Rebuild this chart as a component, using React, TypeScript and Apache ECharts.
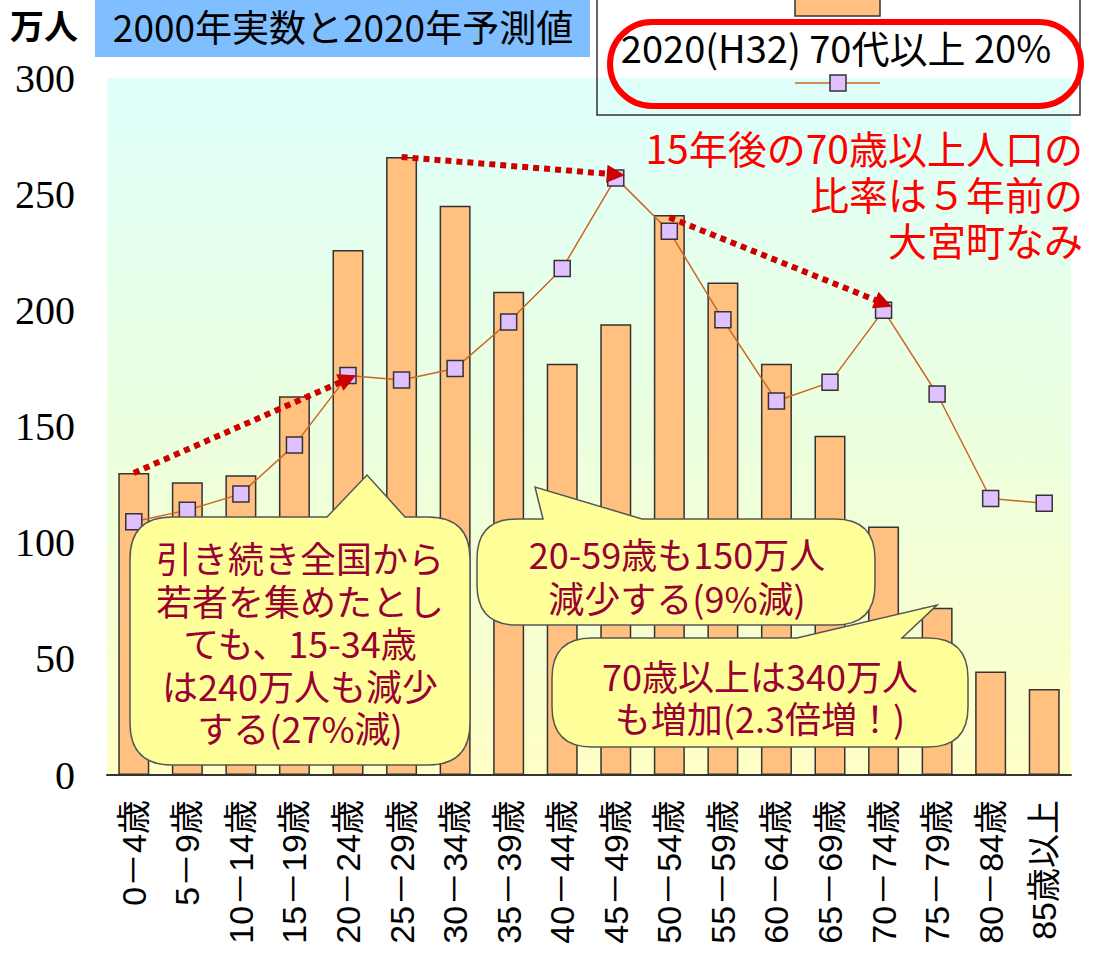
import React, { useEffect, useRef } from "react";
import * as echarts from "echarts";

// ---- data ----
const categories = [
  "0－4歳", "5－9歳", "10－14歳", "15－19歳", "20－24歳", "25－29歳",
  "30－34歳", "35－39歳", "40－44歳", "45－49歳", "50－54歳", "55－59歳",
  "60－64歳", "65－69歳", "70－74歳", "75－79歳", "80－84歳", "85歳以上",
];
const pop2000 = [130, 126, 129, 163, 226, 266, 245, 208, 177, 194, 241, 212, 177, 146, 107, 72, 44.5, 37];
const pop2020 = [109, 114, 121, 142, 172, 170, 175, 195, 218, 257, 234, 196, 161, 169, 200, 164, 119, 117];
const yTicks = [0, 50, 100, 150, 200, 250, 300];

const seriesBarName = "2000(H12)";
const seriesLineName = "2020(H32) 70代以上 20%";
const titleText = "2000年実数と2020年予測値";
const unitText = "万人";
const redNoteLines = ["15年後の70歳以上人口の", "比率は５年前の", "大宮町なみ"];
const bubble1Lines = ["引き続き全国から", "若者を集めたとし", "ても、15-34歳", "は240万人も減少", "する(27%減)"];
const bubble2Lines = ["20-59歳も150万人", "減少する(9%減)"];
const bubble3Lines = ["70歳以上は340万人", "も増加(2.3倍増！)"];

// arrows: [fromCategoryIndex, fromValue, toCategoryIndex, toValue]
const arrows = [
  [0, 130, 3.85, 170.5],
  [5, 266, 8.85, 258.5],
  [10, 240, 13.85, 203],
];

// ---- bubble geometry (layout) ----
function bubblePath(x0: number, y0: number, x1: number, y1: number, r: number, tl: number, ax: number, ay: number, tr: number) {
  return (
    `M${x0 + r},${y0} L${tl},${y0} L${ax},${ay} L${tr},${y0} L${x1 - r},${y0} ` +
    `Q${x1},${y0} ${x1},${y0 + r} L${x1},${y1 - r} Q${x1},${y1} ${x1 - r},${y1} ` +
    `L${x0 + r},${y1} Q${x0},${y1} ${x0},${y1 - r} L${x0},${y0 + r} Q${x0},${y0} ${x0 + r},${y0} Z`
  );
}

const B1 = bubblePath(130, 517, 470, 765, 42, 327, 367, 475, 405);
const B2 = bubblePath(477, 519, 875, 625, 40, 543, 535, 487, 642);
const B3 = bubblePath(552, 638, 968, 747, 40, 797, 937, 605, 902);

echarts.graphic.registerShape("bubbleA", (echarts.graphic as any).extendPath(B1, {}));
echarts.graphic.registerShape("bubbleB", (echarts.graphic as any).extendPath(B2, {}));
echarts.graphic.registerShape("bubbleC", (echarts.graphic as any).extendPath(B3, {}));

const CJK = "'Noto Sans CJK JP', 'Noto Sans', sans-serif";

function linesToTexts(lines: string[], x: number, yFirst: number, step: number, font: string, fill: string, align: string, z: number) {
  return lines.map((t, i) => ({
    type: "text",
    x,
    y: yFirst + i * step,
    z,
    style: { text: t, fill, font, align, verticalAlign: "middle", lineHeight: 34 },
  }));
}

export default function App() {
  const ref = useRef<HTMLDivElement>(null);
  useEffect(() => {
    if (!ref.current) return;
    const chart = echarts.init(ref.current, undefined, { renderer: "svg" });
    const bubbleStyle = { fill: "#FFFF99", stroke: "#555555", lineWidth: 1.5 };
    const bFont = `36px ${CJK}`;
    const bColor = "#990033";
    chart.setOption({
      animation: false,
      backgroundColor: "#ffffff",
      grid: {
        left: 107,
        right: 24,
        top: 78,
        bottom: 190,
        show: true,
        borderWidth: 0,
        backgroundColor: new echarts.graphic.LinearGradient(0, 0, 0, 1, [
          { offset: 0, color: "#DEFFFB" },
          { offset: 0.5, color: "#EBFFDF" },
          { offset: 1, color: "#FFFFC6" },
        ]),
      },
      xAxis: {
        type: "category",
        data: categories,
        axisTick: { show: false },
        axisLine: { show: true, lineStyle: { color: "#333333", width: 2 } },
        axisLabel: {
          interval: 0,
          rotate: 90,
          margin: 25,
          color: "#000000",
          fontSize: 34,
          fontFamily: "'Liberation Sans', 'Noto Sans CJK JP', sans-serif",
        },
      },
      yAxis: {
        type: "value",
        min: yTicks[0],
        max: yTicks[yTicks.length - 1],
        interval: 50,
        axisLine: { show: false },
        axisTick: { show: false },
        splitLine: { show: false },
        axisLabel: {
          margin: 32,
          color: "#000000",
          fontSize: 40,
          fontFamily: "'Liberation Serif', 'DejaVu Serif', serif",
        },
      },
      series: [
        {
          name: seriesBarName,
          type: "bar",
          data: pop2000,
          barWidth: 31,
          itemStyle: { color: "#FFC080", borderColor: "#333333", borderWidth: 1.5 },
          z: 2,
        },
        {
          name: seriesLineName,
          type: "line",
          data: pop2020,
          symbol: "rect",
          symbolSize: 16,
          lineStyle: { color: "#CC6622", width: 1.5 },
          itemStyle: { color: "#E0C0FF", borderColor: "#333333", borderWidth: 1.5 },
          z: 3,
        },
        {
          name: "arrows",
          type: "line",
          data: [],
          z: 10,
          markLine: {
            silent: true,
            z: 10,
            symbol: ["none", "triangle"],
            symbolSize: 18,
            label: { show: false },
            itemStyle: { color: "#CC0000" },
            lineStyle: { color: "#CC0000", width: 6, type: [6, 5], opacity: 1 },
            data: arrows.map((a) => [
              { coord: [a[0], a[1]], symbol: "none" },
              { coord: [a[2], a[3]], symbol: "triangle", symbolSize: 18 },
            ]),
          },
        },
      ],
      graphic: [
        {
          type: "text",
          x: 10,
          y: 24,
          style: { text: unitText, fill: "#000", font: `bold 34px ${CJK}`, verticalAlign: "middle" },
          z: 50,
        },
        {
          type: "rect",
          shape: { x: 95, y: 0, width: 495, height: 57 },
          style: { fill: "#80BFFF" },
          z: 50,
        },
        {
          type: "text",
          x: 343,
          y: 26,
          style: { text: titleText, fill: "#000", font: `37px ${CJK}`, align: "center", verticalAlign: "middle" },
          z: 51,
        },
        // legend box
        {
          type: "rect",
          shape: { x: 597, y: -10, width: 483, height: 125 },
          style: { fill: "none", stroke: "#333333", lineWidth: 1.5 },
          z: 50,
        },
        {
          type: "rect",
          shape: { x: 795, y: -5, width: 85, height: 21 },
          style: { fill: "#FFC080", stroke: "#333333", lineWidth: 1.5 },
          z: 51,
        },
        {
          type: "text",
          x: 836,
          y: 46,
          style: { text: seriesLineName, fill: "#000", font: `38px ${CJK}`, align: "center", verticalAlign: "middle" },
          z: 51,
        },
        {
          type: "line",
          shape: { x1: 795, y1: 83, x2: 880, y2: 83 },
          style: { stroke: "#CC6622", lineWidth: 1.5 },
          z: 51,
        },
        {
          type: "rect",
          shape: { x: 830, y: 75, width: 16, height: 16 },
          style: { fill: "#E0C0FF", stroke: "#333333", lineWidth: 1.5 },
          z: 52,
        },
        {
          type: "rect",
          shape: { x: 610, y: 22, width: 471, height: 84, r: 42 },
          style: { fill: "none", stroke: "#FF0000", lineWidth: 6 },
          z: 53,
        },
        // red note
        ...linesToTexts(redNoteLines, 1083, 147, 46, `39px ${CJK}`, "#FF0000", "right", 50),
        // bubbles
        { type: "bubbleA", x: 0, y: 0, style: bubbleStyle, z: 60 },
        ...linesToTexts(bubble1Lines, 300, 557, 42.5, bFont, bColor, "center", 61),
        { type: "bubbleB", x: 0, y: 0, style: bubbleStyle, z: 60 },
        ...linesToTexts(bubble2Lines, 677, 553, 44, bFont, bColor, "center", 61),
        { type: "bubbleC", x: 0, y: 0, style: bubbleStyle, z: 62 },
        ...linesToTexts(bubble3Lines, 760, 675, 42, bFont, bColor, "center", 63),
      ],
    });
    return () => chart.dispose();
  }, []);
  return <div ref={ref} style={{ width: 1095, height: 965, position: "absolute", left: 0, top: 0 }} />;
}
